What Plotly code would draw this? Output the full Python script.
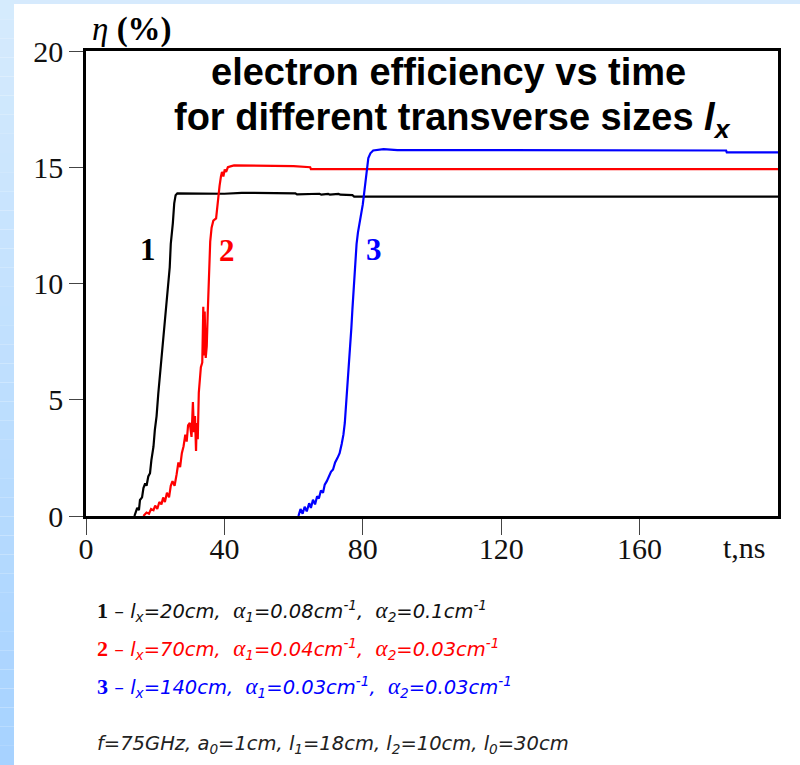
import plotly.graph_objects as go

# Electron efficiency eta(t), %, for three transverse sizes l_x
t1 = [14.0, 14.8, 15.3, 15.6, 16.2, 16.6, 17.1, 17.5, 18.0, 18.5, 18.9, 19.5, 19.9, 20.4, 20.9,
      21.4, 21.9, 22.4, 22.9, 23.3, 23.8, 24.2, 24.5, 24.8, 25.1, 25.5, 25.9, 26.4, 30.0, 40.0,
      45.0, 60.5, 61.0, 66.0, 67.5, 68.0, 70.0, 70.5, 73.0, 73.5, 77.0, 77.5, 200.0]
eta1 = [0.0, 0.35, 0.25, 0.69, 0.8, 1.2, 1.4, 1.3, 1.7, 1.84, 2.4, 2.98, 3.7, 4.3, 5.28,
        6.15, 6.8, 7.57, 8.5, 9.3, 10.1, 10.7, 11.7, 12.1, 12.6, 13.45, 13.8, 13.88, 13.88, 13.86,
        13.9, 13.88, 13.83, 13.83, 13.86, 13.82, 13.85, 13.82, 13.85, 13.82, 13.8, 13.74, 13.74]

t2 = [16.6, 17.5, 18.2, 18.8, 19.5, 20.0, 20.6, 21.2, 21.8, 22.3, 22.8, 23.4, 24.0, 24.5, 25.0,
      25.6, 26.2, 26.7, 27.2, 27.7, 28.2, 28.7, 29.1, 29.5, 30.0, 30.5, 30.9, 31.2, 31.5, 31.8,
      32.0, 32.3, 32.6, 32.9, 33.2, 33.6, 33.9, 34.1, 34.3, 34.6, 34.9, 35.2, 35.4, 35.6, 35.9,
      36.3, 36.8, 37.6, 38.1, 38.6, 39.0, 39.3, 39.7, 40.1, 40.5, 41.0, 42.0, 42.8, 60.0, 64.8,
      65.0, 200.0]
eta2 = [0.0, 0.15, 0.1, 0.3, 0.25, 0.45, 0.3, 0.6, 0.5, 0.8, 0.6, 1.0, 0.8, 1.3, 1.5,
        1.3, 1.8, 2.3, 2.1, 2.7, 3.0, 3.5, 3.2, 3.9, 4.0, 3.4, 4.9, 3.6, 4.3, 2.8,
        4.0, 3.3, 5.3, 6.0, 6.4, 6.6, 9.0, 6.9, 8.8, 6.8, 7.3, 8.8, 10.0, 11.0, 11.8,
        12.4, 12.7, 12.8, 13.6, 14.2, 14.6, 14.8, 14.6, 14.9, 14.8, 15.0, 15.05, 15.08, 15.05, 15.0,
        14.92, 14.92]

t3 = [61.4, 62.0, 62.6, 63.2, 63.8, 64.5, 65.0, 65.6, 66.2, 66.8, 67.3, 67.9, 68.5, 69.0, 69.6,
      70.2, 70.8, 71.4, 72.0, 72.7, 73.3, 73.9, 74.4, 74.8, 75.2, 75.6, 75.9, 76.3, 76.7, 77.0,
      77.3, 77.6, 77.9, 78.2, 78.6, 79.1, 79.5, 80.0, 80.4, 80.8, 81.2, 81.6, 82.2, 83.0, 86.0,
      90.0, 185.0, 185.2, 200.0]
eta3 = [0.0, 0.3, 0.1, 0.4, 0.2, 0.55, 0.35, 0.7, 0.5, 0.85, 0.75, 1.1, 1.0, 1.35, 1.5,
        1.7, 1.9, 2.0, 2.3, 2.5, 2.7, 3.1, 3.5, 4.0, 4.8, 5.6, 6.3, 7.2, 8.1, 8.9,
        9.6, 10.4, 11.1, 11.7, 12.2, 12.6, 12.9, 13.4, 13.9, 14.5, 15.0, 15.4, 15.6, 15.72, 15.78,
        15.74, 15.72, 15.64, 15.64]

x_ticks = [0, 40, 80, 120, 160]
y_ticks = [0, 5, 10, 15, 20]

series = [(t1, eta1, "black"), (t2, eta2, "#ff0000"), (t3, eta3, "#0000ff")]

fig = go.Figure()
for t, eta, col in series:
    fig.add_trace(go.Scatter(x=t, y=eta, mode="lines",
                             line=dict(color=col, width=2.2), showlegend=False))

W, H = 800, 765
ML, MR, MT, MB = 86, 22, 51, 249
PW, PH = W - ML - MR, H - MT - MB


def px(x):
    return (x - ML) / PW


def py(y):
    return (H - MB - y) / PH


# slide background: light blue strips on the top and left edges
shapes = [dict(type="rect", xref="paper", yref="paper", x0=px(0), x1=px(W), y0=py(4), y1=py(0),
               fillcolor="#d6eafd", line=dict(width=0), layer="below")]
nb = 40
top_c, bot_c = (214, 235, 253), (166, 210, 255)
for i in range(nb):
    f = (i + 0.5) / nb
    c = tuple(round(top_c[k] + (bot_c[k] - top_c[k]) * f) for k in range(3))
    y0 = i * H / nb
    y1 = (i + 1) * H / nb
    shapes.append(dict(type="rect", xref="paper", yref="paper", x0=px(0), x1=px(14),
                       y0=py(y1), y1=py(y0), fillcolor="rgb(%d,%d,%d)" % c,
                       line=dict(width=0), layer="below"))

serif = "Liberation Serif"
sans = "DejaVu Sans"

axis_common = dict(showgrid=False, zeroline=False, showline=True, linecolor="black",
                   linewidth=2.5, mirror=True, ticks="outside", tickcolor="#444",
                   tickwidth=1, tickfont=dict(family=serif, size=30, color="#111"))

fig.update_layout(
    width=W, height=H, margin=dict(l=ML, r=MR, t=MT, b=MB),
    paper_bgcolor="white", plot_bgcolor="white",
    xaxis=dict(range=[0, 200], tickvals=x_ticks, ticklen=16, ticklabelstandoff=-12,
               **axis_common),
    yaxis=dict(range=[0, 20], tickvals=y_ticks, ticklen=14, **axis_common),
    shapes=shapes,
)

ann = []
# title
ann.append(dict(text="<b>electron efficiency vs time</b>", xref="paper", yref="paper",
                x=px(449), y=py(72), xanchor="center", yanchor="middle", showarrow=False,
                font=dict(family="Liberation Sans", size=38, color="black")))
ann.append(dict(text="<b>for different transverse sizes <i>l</i><sub><i>x</i></sub></b>",
                xref="paper", yref="paper", x=px(452), y=py(120), xanchor="center",
                yanchor="middle", showarrow=False,
                font=dict(family="Liberation Sans", size=38, color="black")))
# axis titles
ann.append(dict(text="<i>η</i> <b>(%)</b>", xref="paper", yref="paper", x=px(90), y=py(30),
                xanchor="left", yanchor="middle", showarrow=False,
                font=dict(family=serif, size=33, color="black")))
ann.append(dict(text="t,ns", xref="paper", yref="paper", x=px(744), y=py(547),
                xanchor="center", yanchor="middle", showarrow=False,
                font=dict(family=serif, size=30, color="#111")))
# curve numbers
for lab, xv, yv, col in [("1", 17.9, 11.45, "black"), ("2", 40.8, 11.4, "#ff0000"),
                         ("3", 83.3, 11.45, "#0000ff")]:
    ann.append(dict(text="<b>%s</b>" % lab, x=xv, y=yv, xref="x", yref="y", showarrow=False,
                    xanchor="center", yanchor="middle",
                    font=dict(family=serif, size=31, color=col)))

A = '<span style="font-family:Liberation Serif;font-size:23px">α</span>'


def line_txt(num, lx, a1, a2):
    return ('<b><span style="font-family:Liberation Serif;font-size:22px">%s</span></b> – '
            '<i>l<sub>x</sub>=%scm,  %s<sub>1</sub>=%scm<sup>-1</sup>,  '
            '%s<sub>2</sub>=%scm<sup>-1</sup></i>' % (num, lx, A, a1, A, a2))


params = [("1", "20", "0.08", "0.1", "#111111", 611),
          ("2", "70", "0.04", "0.03", "#ff0000", 649),
          ("3", "140", "0.03", "0.03", "#0000ff", 687)]
for num, lx, a1, a2, col, yy in params:
    ann.append(dict(text=line_txt(num, lx, a1, a2), xref="paper", yref="paper",
                    x=px(95), y=py(yy), xanchor="left", yanchor="middle", showarrow=False,
                    font=dict(family=sans, size=19.5, color=col)))
ann.append(dict(text="<i>f=75GHz, a<sub>0</sub>=1cm, l<sub>1</sub>=18cm, l<sub>2</sub>=10cm, "
                     "l<sub>0</sub>=30cm</i>",
                xref="paper", yref="paper", x=px(95), y=py(744), xanchor="left",
                yanchor="middle", showarrow=False,
                font=dict(family=sans, size=19.5, color="#222222")))

fig.update_layout(annotations=ann)
fig.write_html("out.html")
